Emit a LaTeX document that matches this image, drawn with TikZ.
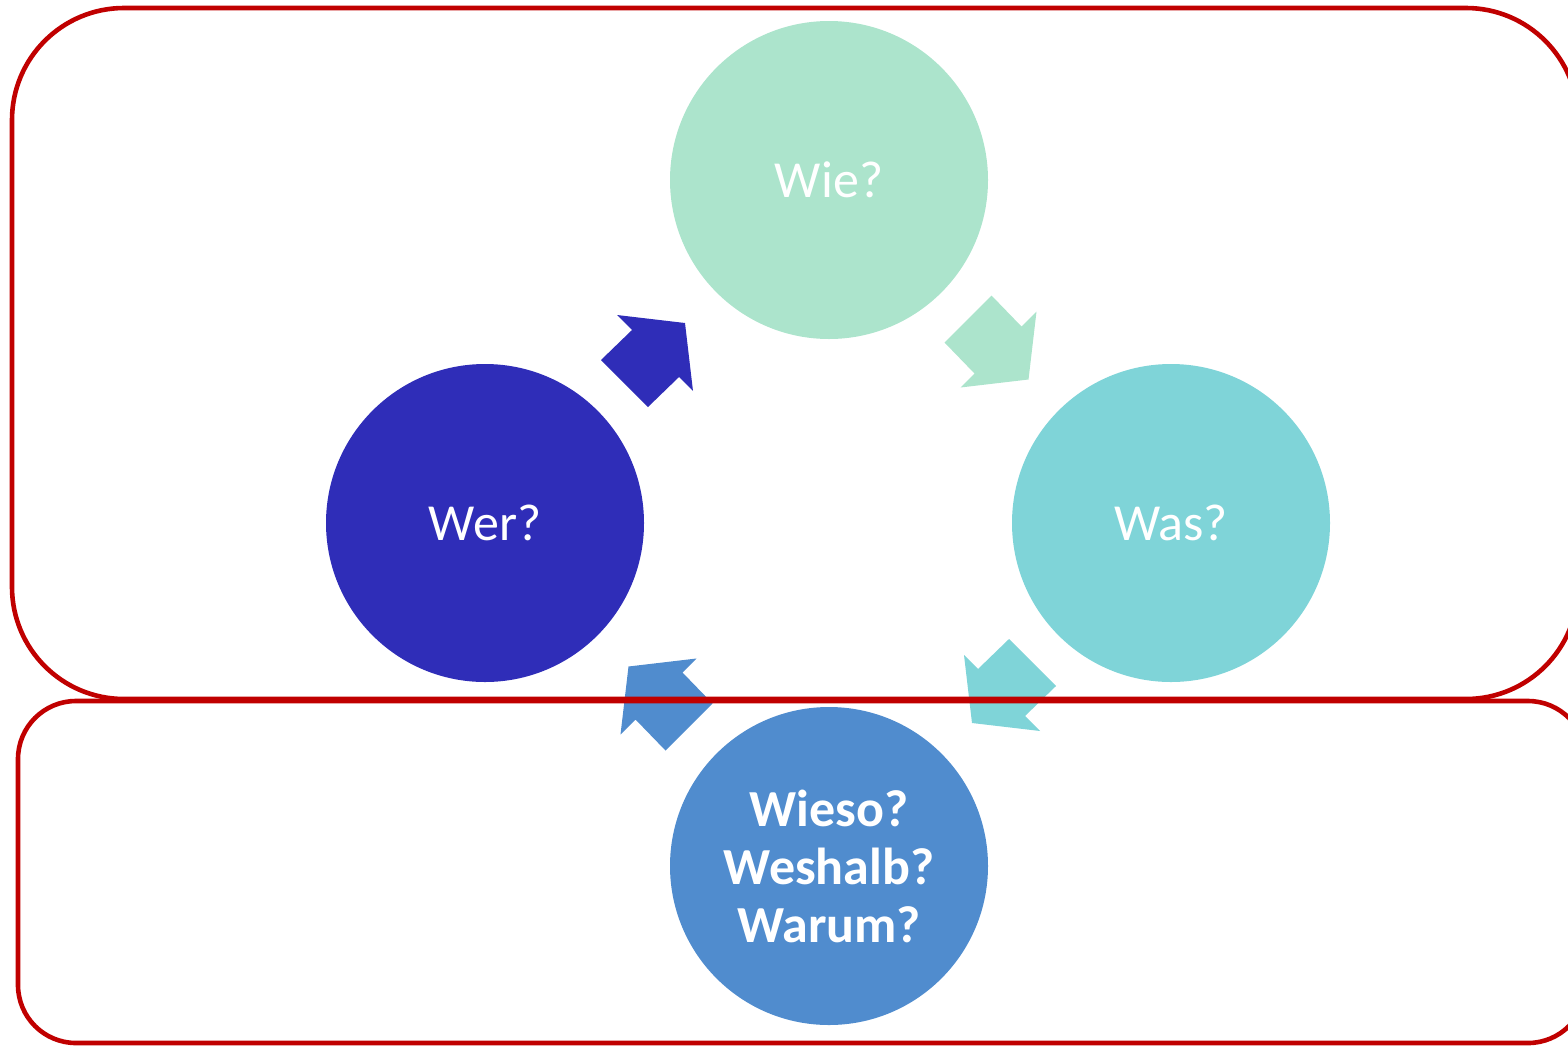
\documentclass[tikz,border=0pt]{standalone}
\usepackage{fontspec}
\setmainfont{Carlito}
\usepackage{tikz}
\usetikzlibrary{calc,positioning}

\definecolor{wiecol}{HTML}{ACE4CC}
\definecolor{wascol}{HTML}{7FD4D8}
\definecolor{wercol}{HTML}{2F2DB8}
\definecolor{whycol}{HTML}{508CCE}
\definecolor{framecol}{HTML}{C00000}

\tikzset{
  pics/blockarrow/.style={code={
    \fill[#1] (-40,-36.5) -- (28,-28.5) -- (36,39.5) -- (22,25.5)
      -- (-9,55.5) -- (-56,8.5) -- (-25,-21.5) -- cycle;
  }}
}

\begin{document}
\begin{tikzpicture}[
x=0.5pt, y=-0.5pt,
font=\fontsize{26pt}{29pt}\selectfont,
bubble/.style={circle, minimum size=159pt, inner sep=0pt, text=white, align=center},
frame/.style={draw=framecol, line width=2.3pt}]
    \useasboundingbox (0,0) rectangle (1568,1045);

    % Draw circles
    \node[bubble, fill=wiecol] (wie) at (829,180) {Wie?};
    \node[bubble, fill=wercol] (wer) at (485,523) {Wer?};
    \node[bubble, fill=wascol] (was) at (1171,523) {Was?};
    \node[bubble, fill=whycol, font=\fontsize{26pt}{29pt}\selectfont\bfseries] (why) at (829,866)
        {Wieso?\\Weshalb?\\Warum?};

    % Draw arrows between them
    \pic at ($(wer)!0.5!(wie)$) {blockarrow=wercol};
    \pic[rotate=-90] at ($(wie)!0.5!(was)$) {blockarrow=wiecol};
    \pic[rotate=-180] at ($(was)!0.5!(why)$) {blockarrow=wascol};
    \pic[rotate=90] at ($(why)!0.5!(wer)$) {blockarrow=whycol};

    % Draw frames
    \draw[frame, rounded corners=56pt] (12,8) rectangle (1578,699);
    \draw[frame, rounded corners=29pt] (18,701) rectangle (1586,1043);
\end{tikzpicture}
\end{document}
